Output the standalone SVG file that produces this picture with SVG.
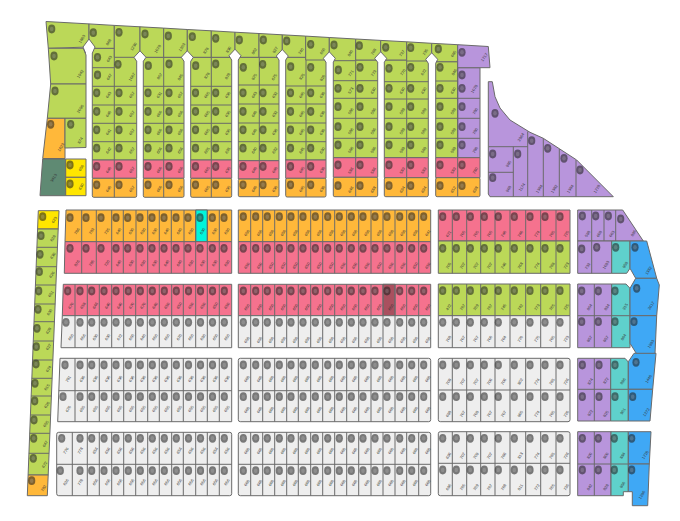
<svg xmlns="http://www.w3.org/2000/svg" width="680" height="521" viewBox="0 0 680 521">
<style>
rect,polygon,path{stroke:#6a6a6a;stroke-width:1;stroke-linejoin:round}
path{fill:none}
path.w{fill:#fff}
.g{fill:#bbd858}.o{fill:#ffb83a}.p{fill:#f5728e}.e{fill:#eeeeee}.v{fill:#b895dc}.t{fill:#5fd1cc}.u{fill:#3fa8f5}.y{fill:#ffe600}.d{fill:#5f8a73}.c{fill:#00f5dc}.m{fill:#a9505f}
text{font:4px "Liberation Sans",Arial,sans-serif;fill:#333;text-anchor:middle;transform-box:fill-box;transform-origin:center;transform:rotate(-58deg)}
</style>
<defs>
<g id="b"><ellipse rx="3.6" ry="4.4" fill="#222" opacity=".58"/><ellipse rx="1.8" ry="2.2" fill="#fff" opacity=".16"/></g>
<g id="p2"><use href="#b" x="96.7"/><use href="#b" x="119"/></g>
<g id="p3"><use href="#b" x="148"/><use href="#b" x="169"/></g>
<g id="p4"><use href="#b" x="195.5"/><use href="#b" x="215.7"/></g>
<g id="p5"><use href="#b" x="243"/><use href="#b" x="263"/></g>
<g id="p6"><use href="#b" x="290.5"/><use href="#b" x="310.7"/></g>
<g id="p7"><use href="#b" x="338"/><use href="#b" x="360"/></g>
<g id="p8"><use href="#b" x="389"/><use href="#b" x="410.7"/></g>
<g id="p9"><use href="#b" x="440"/><use href="#b" x="462"/></g>
<g id="r1"><use href="#b" x="70"/><use href="#b" x="86"/><use href="#b" x="101"/><use href="#b" x="116"/><use href="#b" x="127.7"/><use href="#b" x="140"/><use href="#b" x="152"/><use href="#b" x="164"/><use href="#b" x="176"/><use href="#b" x="188"/><use href="#b" x="200"/><use href="#b" x="212.3"/><use href="#b" x="224"/></g>
<g id="r2"><use href="#b" x="80"/><use href="#b" x="91.7"/><use href="#b" x="104"/><use href="#b" x="116"/><use href="#b" x="128.3"/><use href="#b" x="140.3"/><use href="#b" x="152.3"/><use href="#b" x="164.3"/><use href="#b" x="176.3"/><use href="#b" x="188.5"/><use href="#b" x="200.5"/><use href="#b" x="212.5"/><use href="#b" x="224.3"/></g>
<g id="r3"><use href="#b" x="243.3"/><use href="#b" x="255.7"/><use href="#b" x="267.3"/><use href="#b" x="279.3"/><use href="#b" x="291"/><use href="#b" x="303"/><use href="#b" x="315.3"/><use href="#b" x="327.7"/><use href="#b" x="339.3"/><use href="#b" x="351.3"/><use href="#b" x="363"/><use href="#b" x="375"/><use href="#b" x="387"/><use href="#b" x="399.7"/><use href="#b" x="411.7"/><use href="#b" x="423.7"/></g>
<g id="r4"><use href="#b" x="442.7"/><use href="#b" x="456.3"/><use href="#b" x="470.3"/><use href="#b" x="484.3"/><use href="#b" x="498.3"/><use href="#b" x="514.3"/><use href="#b" x="530"/><use href="#b" x="545"/><use href="#b" x="560"/></g>
</defs>

<g id="west-lots">
<polygon class="g" points="46,21.5 89,23.9 89,47 48.3,48.3"/>
<polygon class="g" points="48.3,48.3 83.3,48.3 86,55 86,84 50.7,84"/>
<polygon class="g" points="50.7,84 86,84 86,118.3 47.3,118.3"/>
<polygon class="o" points="47.3,118.3 65,118.3 65,158.5 42.7,158.5"/>
<polygon class="g" points="65,118.3 86,118.3 86,147.5 65,148"/>
<polygon class="d" points="42.7,159 65.7,159 65.7,195.7 40,195.7"/>
<polygon class="y" points="65.7,159 86,159 86,177.3 65.7,177.3"/>
<polygon class="y" points="65.7,177.3 86,177.3 86,195.7 65.7,195.7"/>
<use href="#b" x="51.7" y="29"/><use href="#b" x="54" y="56"/><use href="#b" x="55" y="91"/><use href="#b" x="50.7" y="124.3"/><use href="#b" x="70.7" y="124.3"/><use href="#b" x="70" y="165"/><use href="#b" x="70" y="184"/>
<text x="81.7" y="40">1803</text><text x="80" y="75">1942</text><text x="80" y="110">2096</text><text x="60.7" y="148.3">1623</text><text x="80" y="141.7">874</text><text x="53.3" y="179">3413</text><text x="81" y="169">650</text><text x="81" y="187.7">630</text>
</g>

<g id="block-2">
<rect class="g" x="92.3" y="48.3" width="44.4" height="111.7"/><rect class="p" x="92.3" y="160" width="44.4" height="18.3"/><rect class="o" x="92.3" y="178.3" width="44.4" height="19" rx="1.5"/>
<path d="M114.3 48.3V197.3M92.3 67.7H114.3M92.3 86.3H136.7M92.3 105H136.7M92.3 123.3H136.7M92.3 141.7H136.7"/>
<use href="#b" x="97.5" y="57.3"/><use href="#b" x="97.5" y="75"/><use href="#b" x="118" y="64.3"/>
<use href="#p2" y="92.8"/><use href="#p2" y="111.5"/><use href="#p2" y="129.8"/><use href="#p2" y="148.2"/><use href="#p2" y="166.5"/><use href="#p2" y="184.8"/>
<text x="109" y="60">643</text><text x="109" y="78">647</text><text x="131.7" y="78">1067</text>
<text x="108.3" y="96">643</text><text x="131.7" y="96">657</text><text x="108.3" y="115">640</text><text x="131.7" y="115">657</text><text x="108.3" y="133">641</text><text x="131.7" y="133">657</text><text x="108.3" y="151.5">642</text><text x="131.7" y="151.5">657</text><text x="108.3" y="171">640</text><text x="131.7" y="171">657</text><text x="108.3" y="190">640</text><text x="131.7" y="190">657</text>
</g>
<g id="block-3">
<rect class="g" x="143.3" y="57.3" width="40.7" height="102.7"/><rect class="p" x="143.3" y="160" width="40.7" height="18.3"/><rect class="o" x="143.3" y="178.3" width="40.7" height="19" rx="1.5"/>
<path d="M163.7 57.3V197.3M143.3 86.3H184M143.3 105H184M143.3 123.3H184M143.3 141.7H184"/>
<use href="#b" x="148.3" y="65.7"/><use href="#b" x="169" y="64"/>
<use href="#p3" y="92.8"/><use href="#p3" y="111.5"/><use href="#p3" y="129.8"/><use href="#p3" y="148.2"/><use href="#p3" y="166.5"/><use href="#p3" y="184.8"/>
<text x="159.3" y="77.3">857</text><text x="180" y="78.3">845</text>
<text x="159" y="96">631</text><text x="180" y="96">657</text><text x="159" y="115">606</text><text x="180" y="115">656</text><text x="159" y="133">606</text><text x="180" y="133">656</text><text x="159" y="151.5">606</text><text x="180" y="151.5">656</text><text x="159" y="171">606</text><text x="180" y="171">656</text><text x="159" y="190">606</text><text x="180" y="190">656</text>
</g>
<g id="block-4">
<rect class="g" x="190.7" y="57.3" width="41" height="102.7"/><rect class="p" x="190.7" y="160" width="41" height="18.3"/><rect class="o" x="190.7" y="178.3" width="41" height="19" rx="1.5"/>
<path d="M211.3 57.3V197.3M190.7 86.3H231.7M190.7 105H231.7M190.7 123.3H231.7M190.7 141.7H231.7"/>
<use href="#b" x="195.7" y="65.7"/><use href="#b" x="215.7" y="64"/>
<use href="#p4" y="92.8"/><use href="#p4" y="111.5"/><use href="#p4" y="129.8"/><use href="#p4" y="148.2"/><use href="#p4" y="166.5"/><use href="#p4" y="184.8"/>
<text x="206.7" y="76.7">878</text><text x="227.3" y="77.3">878</text>
<text x="206.7" y="96">605</text><text x="227.5" y="96">630</text><text x="206.7" y="115">605</text><text x="227.5" y="115">635</text><text x="206.7" y="133">605</text><text x="227.5" y="133">635</text><text x="206.7" y="151.5">605</text><text x="227.5" y="151.5">635</text><text x="206.7" y="171">605</text><text x="227.5" y="171">635</text><text x="206.7" y="190">605</text><text x="227.5" y="190">635</text>
</g>
<g id="block-5">
<rect class="g" x="238.3" y="57.3" width="40.7" height="103.4"/><rect class="p" x="238.3" y="160.7" width="40.7" height="18.3"/><rect class="o" x="238.3" y="179" width="40.7" height="17.7" rx="1.5"/>
<path d="M259.3 57.3V196.7M238.3 85H279M238.3 104H279M238.3 123H279M238.3 141.7H279"/>
<use href="#b" x="243.3" y="67.3"/><use href="#b" x="262.7" y="64.3"/>
<use href="#p5" y="92.8"/><use href="#p5" y="111.5"/><use href="#p5" y="129.8"/><use href="#p5" y="148.2"/><use href="#p5" y="166.5"/><use href="#p5" y="184.8"/>
<text x="254" y="78">875</text><text x="274" y="78.3">675</text>
<text x="254" y="96">643</text><text x="274.5" y="96">632</text><text x="254" y="115">640</text><text x="274.5" y="115">632</text><text x="254" y="133">640</text><text x="274.5" y="133">636</text><text x="254" y="151.5">640</text><text x="274.5" y="151.5">632</text><text x="254" y="171">640</text><text x="274.5" y="171">640</text><text x="254" y="190">640</text><text x="274.5" y="190">630</text>
</g>
<g id="block-6">
<rect class="g" x="285.7" y="57.3" width="40.3" height="102.7"/><rect class="p" x="285.7" y="160" width="40.3" height="18.3"/><rect class="o" x="285.7" y="178.3" width="40.3" height="18.7" rx="1.5"/>
<path d="M306 57.3V197M285.7 86H326M285.7 104H326M285.7 123H326M285.7 141.7H326"/>
<use href="#b" x="290.7" y="66.7"/><use href="#b" x="310.7" y="67.3"/>
<use href="#p6" y="92.8"/><use href="#p6" y="111.5"/><use href="#p6" y="129.8"/><use href="#p6" y="148.2"/><use href="#p6" y="166.5"/><use href="#p6" y="184.8"/>
<text x="301.7" y="77.7">825</text><text x="322.3" y="79">820</text>
<text x="301.5" y="96">645</text><text x="322" y="96">630</text><text x="301.5" y="115">645</text><text x="322" y="115">630</text><text x="301.5" y="133">645</text><text x="322" y="133">630</text><text x="301.5" y="151.5">645</text><text x="322" y="151.5">630</text><text x="301.5" y="171">645</text><text x="322" y="171">630</text><text x="301.5" y="190">645</text><text x="322" y="190">630</text>
</g>
<g id="block-7">
<rect class="g" x="333.3" y="60" width="44.4" height="97.7"/><rect class="p" x="333.3" y="157.7" width="44.4" height="19.6"/><rect class="o" x="333.3" y="177.3" width="44.4" height="19.4" rx="1.5"/>
<path d="M355.7 60V196.7M333.3 80.7H377.7M333.3 98.3H377.7M333.3 118.3H377.7M333.3 138.3H377.7"/>
<use href="#b" x="338.3" y="70"/><use href="#b" x="360" y="67.3"/>
<use href="#p7" y="88.3"/><use href="#p7" y="106.7"/><use href="#p7" y="126.7"/><use href="#p7" y="145"/><use href="#p7" y="165"/><use href="#p7" y="185.7"/>
<text x="350.7" y="74.3">771</text><text x="373.3" y="74.3">773</text>
<text x="350.5" y="91.7">573</text><text x="373" y="91.7">630</text><text x="350.5" y="112.3">586</text><text x="373" y="112.3">586</text><text x="350.5" y="132.3">586</text><text x="373" y="132.3">586</text><text x="350.5" y="151">586</text><text x="373" y="151">586</text><text x="350.5" y="171.7">586</text><text x="373" y="171.7">586</text><text x="350.5" y="190.7">646</text><text x="373" y="190.7">688</text>
</g>
<g id="block-8">
<rect class="g" x="384.3" y="60" width="44" height="97.7"/><rect class="p" x="384.3" y="157.7" width="44" height="20"/><rect class="o" x="384.3" y="177.7" width="44" height="19" rx="1.5"/>
<path d="M406.7 60V196.7M384.3 81.7H428.3M384.3 99H428.3M384.3 118.3H428.3M384.3 138.3H428.3"/>
<use href="#b" x="389" y="68.3"/><use href="#b" x="410.7" y="67.3"/>
<use href="#p8" y="88.3"/><use href="#p8" y="106.7"/><use href="#p8" y="126.7"/><use href="#p8" y="145"/><use href="#p8" y="165"/><use href="#p8" y="185.7"/>
<text x="402.7" y="73.3">770</text><text x="423.3" y="73.3">672</text>
<text x="402" y="91.7">630</text><text x="423.5" y="91.7">630</text><text x="402" y="112.3">589</text><text x="423.5" y="112.3">589</text><text x="402" y="132.3">589</text><text x="423.5" y="132.3">589</text><text x="402" y="151">589</text><text x="423.5" y="151">589</text><text x="402" y="171.7">589</text><text x="423.5" y="171.7">589</text><text x="402" y="190.7">694</text><text x="423.5" y="190.7">694</text>
</g>
<g id="block-9">
<rect class="g" x="435.7" y="61.7" width="22" height="96"/><rect class="v" x="457.7" y="67.7" width="22.3" height="90"/><rect class="p" x="435.7" y="157.7" width="44.3" height="20"/><rect class="o" x="435.7" y="177.7" width="44.3" height="19" rx="1.5"/>
<path d="M457.7 61.7V196.7M435.7 81H457.7M435.7 98.3H480M435.7 118.3H480M435.7 138.3H480"/>
<use href="#b" x="440" y="67.3"/><use href="#b" x="462" y="75"/>
<use href="#p9" y="88.3"/><use href="#p9" y="106.7"/><use href="#p9" y="126.7"/><use href="#p9" y="145"/><use href="#p9" y="165"/><use href="#p9" y="185.7"/>
<text x="454" y="73.3">846</text><text x="474" y="90">1078</text>
<text x="453" y="91.7">630</text><text x="453" y="112.3">589</text><text x="475" y="112.3">780</text><text x="453" y="132.3">589</text><text x="475" y="132.3">780</text><text x="453" y="151">589</text><text x="475" y="151">780</text><text x="453" y="171.7">589</text><text x="475" y="171.7">780</text><text x="453" y="190.7">652</text><text x="475" y="190.7">698</text>
</g>

<g id="top-row">
<polygon class="g" points="89,23.9 114.3,25.4 114.3,48.3 89,48.3"/>
<polygon class="g" points="114.3,25.4 140,26.8 140,57.3 114.3,57.3"/>
<polygon class="g" points="140,26.8 163.7,28.1 163.7,57.3 140,57.3"/>
<polygon class="g" points="163.7,28.1 187.3,29.5 187.3,57.3 163.7,57.3"/>
<polygon class="g" points="187.3,29.5 211.3,30.8 211.3,57.3 187.3,57.3"/>
<polygon class="g" points="211.3,30.8 235,32.2 235,57.3 211.3,57.3"/>
<polygon class="g" points="235,32.2 259,33.5 259,57.3 235,57.3"/>
<polygon class="g" points="259,33.5 282.3,34.8 282.3,57.3 259,57.3"/>
<polygon class="g" points="282.3,34.8 305.7,36.1 305.7,57.3 282.3,57.3"/>
<polygon class="g" points="305.7,36.1 329.3,37.5 329.3,60 305.7,60"/>
<polygon class="g" points="329.3,37.5 355.7,39 355.7,60.7 329.3,60.7"/>
<polygon class="g" points="355.7,39 380.7,40.4 380.7,60 355.7,60"/>
<polygon class="g" points="380.7,40.4 406.7,41.8 406.7,60 380.7,60"/>
<polygon class="g" points="406.7,41.8 431.7,43.3 431.7,61 406.7,61"/>
<polygon class="g" points="431.7,43.3 457.7,44.7 457.7,61.7 431.7,61.7"/>
<polygon class="v" points="457.7,44.7 488.3,46.5 490,67.7 457.7,67.7"/>
<path class="w" d="M85.6 53 L83 47 L89 39 L95 47 L92.4 53"/>
<path class="w" d="M136.7 61.3 L134 57.3 L140 50.8 L146 57.3 L143.3 61.3"/>
<path class="w" d="M184 61.3 L181.3 57.3 L187.3 50.8 L193.3 57.3 L190.7 61.3"/>
<path class="w" d="M231.7 60 L229 55.7 L235 49.2 L241 55.7 L238.3 60"/>
<path class="w" d="M279 60 L276.3 56 L282.3 49.5 L288.3 56 L285.7 60"/>
<path class="w" d="M326 62.3 L323.3 58.3 L329.3 51.8 L335.3 58.3 L333.3 62.3"/>
<path class="w" d="M377.7 62.3 L374.7 58.3 L380.7 51.8 L386.7 58.3 L384.3 62.3"/>
<path class="w" d="M428.3 63.3 L425.7 59.3 L431.7 52.8 L437.7 59.3 L435.7 63.3"/>
<use href="#b" x="93.3" y="32.7"/><use href="#b" x="119" y="32.3"/><use href="#b" x="145" y="34"/><use href="#b" x="168.3" y="36"/><use href="#b" x="192.3" y="36.7"/><use href="#b" x="215.7" y="38.3"/><use href="#b" x="239.3" y="40"/><use href="#b" x="263.3" y="40"/><use href="#b" x="286.7" y="41"/><use href="#b" x="310.7" y="44.3"/><use href="#b" x="334" y="45"/><use href="#b" x="359.3" y="45.7"/><use href="#b" x="385.7" y="47.3"/><use href="#b" x="410.7" y="47.7"/><use href="#b" x="438.3" y="49"/><use href="#b" x="462" y="52.3"/>
<text x="108.3" y="43.3">868</text><text x="133.3" y="47.7">1230</text><text x="157.3" y="50">1078</text><text x="181.7" y="48.3">1203</text><text x="205.7" y="51.7">878</text><text x="228.3" y="50.7">830</text><text x="254" y="52.3">862</text><text x="275" y="51">827</text><text x="300.7" y="52.3">740</text><text x="322.3" y="52.3">650</text><text x="350" y="54.3">840</text><text x="373.3" y="52.7">768</text><text x="401.7" y="54.3">737</text><text x="425" y="53.3">735</text><text x="453.3" y="55">685</text><text x="484" y="58.3">1717</text>
</g>

<g id="east-wedge">
<polygon class="v" points="488.3,81.7 492.3,81.7 495,96.7 500,108 510,120 530,132.3 543.3,138.3 576.7,160 613.3,196.7 490,196.7 488.3,194 488.3,146.7"/>
<path d="M488.3 146.7H527.7M513.3 146.7V196.7M488.3 172.3H513.3M527.7 131.5V196.7M543.3 138.3V196.7M559.3 149V196.7M576 160V196.7"/>
<use href="#b" x="495" y="113.3"/><use href="#b" x="492.7" y="154"/><use href="#b" x="492.7" y="177.7"/><use href="#b" x="517.7" y="154"/><use href="#b" x="531.7" y="140.7"/><use href="#b" x="547.7" y="148.3"/><use href="#b" x="564" y="158.3"/><use href="#b" x="580" y="170"/>
<text x="520.7" y="138.3">2964</text><text x="508.3" y="165">985</text><text x="508.3" y="190">968</text><text x="521.7" y="188.3">1174</text><text x="539" y="190">1384</text><text x="554" y="190">1382</text><text x="570" y="190">1384</text><text x="596.7" y="190">1778</text>
</g>

<g id="west-strip">
<polygon class="y" points="38.3,210.7 59,210.7 58.2,229 37.6,229"/>
<polygon class="g" points="37.6,229 58.2,229 48.2,475 28.1,475"/>
<polygon class="o" points="28.1,475 48.2,475 47.3,495.7 27.3,495.7"/>
<path d="M36.9 247.3H57.5M36.1 266.7H56.7M35.4 285H56M34.7 304H55.2M34 321.7H54.4M33.3 341H53.7M32.5 360H52.9M31.8 378.3H52.1M31.1 396H51.4M30.4 415H50.6M29.7 433.3H49.9M28.9 453.3H49"/>
<use href="#b" x="42.7" y="216.7"/><use href="#b" x="41" y="235.7"/><use href="#b" x="40" y="254.3"/><use href="#b" x="39.3" y="271.7"/><use href="#b" x="38.7" y="291"/><use href="#b" x="38" y="309.3"/><use href="#b" x="37" y="328.3"/><use href="#b" x="36.3" y="346.7"/><use href="#b" x="36" y="364"/><use href="#b" x="35" y="383.3"/><use href="#b" x="34.7" y="401"/><use href="#b" x="34" y="420"/><use href="#b" x="33.7" y="438.3"/><use href="#b" x="33.3" y="458.3"/><use href="#b" x="31.7" y="480.7"/>
<text x="54" y="221">623</text><text x="52.7" y="239.3">628</text><text x="52.7" y="256.7">630</text><text x="51.7" y="275.7">626</text><text x="50.7" y="295">651</text><text x="49.3" y="313.3">630</text><text x="48.3" y="331.7">628</text><text x="48.3" y="348">627</text><text x="48.3" y="370">674</text><text x="46.7" y="388.3">615</text><text x="46.7" y="406">626</text><text x="45.7" y="425">655</text><text x="45" y="445">647</text><text x="44.3" y="465.7">672</text><text x="43.3" y="489.3">782</text>
</g>

<g id="row-1-left">
<polygon class="o" points="66,210 231.7,210 231.7,241.7 65,241.7"/>
<rect class="c" x="195.7" y="210" width="11.6" height="31.7"/>
<polygon class="p" points="65,241.7 231.7,241.7 231.7,273.3 64.3,273.3"/>
<path d="M81.7 210V273.3M96.3 210V273.3M111.7 210V273.3M123.3 210V273.3M136 210V273.3M147.7 210V273.3M159.3 210V273.3M171.3 210V273.3M184 210V273.3M195.7 210V273.3M207.3 210V273.3M219.3 210V273.3"/>
<use href="#r1" y="217.7"/><use href="#r1" y="248.3"/>
<text x="76.7" y="232.3">786</text><text x="91.3" y="232.3">783</text><text x="106.7" y="232.3">735</text><text x="118.3" y="232.3">640</text><text x="131" y="232.3">630</text><text x="142.7" y="232.3">630</text><text x="154.3" y="232.3">630</text><text x="166.3" y="232.3">640</text><text x="179" y="232.3">640</text><text x="190.7" y="232.3">630</text><text x="202.3" y="232.3">630</text><text x="214.3" y="232.3">630</text><text x="226.7" y="232.3">630</text>
<text x="76.7" y="264.3">876</text><text x="91.3" y="264.3">785</text><text x="106.7" y="264.3">720</text><text x="118.3" y="264.3">640</text><text x="131" y="264.3">630</text><text x="142.7" y="264.3">630</text><text x="154.3" y="264.3">630</text><text x="166.3" y="264.3">640</text><text x="179" y="264.3">640</text><text x="190.7" y="264.3">630</text><text x="202.3" y="264.3">630</text><text x="214.3" y="264.3">630</text><text x="226.7" y="264.3">630</text>
</g>
<g id="row-2-left">
<polygon class="p" points="63.3,284.3 231.7,284.3 231.7,315.7 62.3,315.7"/>
<polygon class="e" points="62.3,315.7 231.7,315.7 231.7,347.7 61,347.7"/>
<path d="M75 284.3V347.7M87.3 284.3V347.7M99.3 284.3V347.7M111.7 284.3V347.7M123.7 284.3V347.7M135.7 284.3V347.7M147.3 284.3V347.7M159.3 284.3V347.7M171.7 284.3V347.7M183.3 284.3V347.7M195.7 284.3V347.7M207.3 284.3V347.7M219.3 284.3V347.7"/>
<use href="#b" x="67.7" y="291"/><use href="#r2" y="291"/><use href="#b" x="66" y="322.3"/><use href="#r2" y="322.3"/>
<text x="70.7" y="306.7">670</text><text x="82.7" y="306.7">658</text><text x="95" y="306.7">646</text><text x="107.3" y="306.7">640</text><text x="119.3" y="306.7">640</text><text x="131.3" y="306.7">670</text><text x="142.7" y="306.7">670</text><text x="154.7" y="306.7">640</text><text x="166.7" y="306.7">650</text><text x="179" y="306.7">650</text><text x="190.7" y="306.7">650</text><text x="202.7" y="306.7">650</text><text x="215" y="306.7">650</text><text x="226.7" y="306.7">650</text>
<text x="70.7" y="338.3">650</text><text x="82.7" y="338.3">656</text><text x="95" y="338.3">630</text><text x="107.3" y="338.3">630</text><text x="119.3" y="338.3">672</text><text x="131.3" y="338.3">650</text><text x="142.7" y="338.3">640</text><text x="154.7" y="338.3">650</text><text x="166.7" y="338.3">650</text><text x="179" y="338.3">670</text><text x="190.7" y="338.3">650</text><text x="202.7" y="338.3">630</text><text x="215" y="338.3">650</text><text x="226.7" y="338.3">650</text>
</g>
<g id="row-3-left">
<polygon class="e" points="60,358.3 231.7,358.3 231.7,421.7 57.7,421.7"/>
<path d="M58.8 390.7H231.7M75 358.3V421.7M87.3 358.3V421.7M99.3 358.3V421.7M111.7 358.3V421.7M123.7 358.3V421.7M135.7 358.3V421.7M147.7 358.3V421.7M159.3 358.3V421.7M171.7 358.3V421.7M183.3 358.3V421.7M195.7 358.3V421.7M207.3 358.3V421.7M219.3 358.3V421.7"/>
<use href="#b" x="65" y="365"/><use href="#r2" y="365"/><use href="#b" x="63" y="396.7"/><use href="#r2" y="396.7"/>
<text x="68" y="380">781</text><text x="82" y="380">636</text><text x="95" y="380">636</text><text x="107.3" y="380">636</text><text x="119.3" y="380">636</text><text x="131.3" y="380">636</text><text x="142.7" y="380">636</text><text x="154.7" y="380">636</text><text x="166.7" y="380">636</text><text x="179" y="380">636</text><text x="190.7" y="380">636</text><text x="202.7" y="380">636</text><text x="215" y="380">636</text><text x="226.7" y="380">636</text>
<text x="68" y="410">676</text><text x="82" y="410">655</text><text x="95" y="410">655</text><text x="107.3" y="410">655</text><text x="119.3" y="410">655</text><text x="131.3" y="410">655</text><text x="142.7" y="410">655</text><text x="154.7" y="410">655</text><text x="166.7" y="410">655</text><text x="179" y="410">655</text><text x="190.7" y="410">655</text><text x="202.7" y="410">655</text><text x="215" y="410">655</text><text x="226.7" y="410">655</text>
</g>
<g id="row-4-left">
<rect class="e" x="56.7" y="432.3" width="175" height="63.4" rx="2"/>
<path d="M56.7 464.3H231.7M72.3 432.3V495.7M87.3 432.3V495.7M99.3 432.3V495.7M111.7 432.3V495.7M123.7 432.3V495.7M135.7 432.3V495.7M147.7 432.3V495.7M159.3 432.3V495.7M171.7 432.3V495.7M183.3 432.3V495.7M195.7 432.3V495.7M207.3 432.3V495.7M219.3 432.3V495.7"/>
<use href="#b" x="61.7" y="438.3"/><use href="#r2" y="438.3"/><use href="#b" x="60.3" y="470.7"/><use href="#r2" y="470.7"/>
<text x="65.7" y="451.7">776</text><text x="80" y="451.7">778</text><text x="95" y="451.7">656</text><text x="107.3" y="451.7">656</text><text x="119.3" y="451.7">656</text><text x="131.3" y="451.7">656</text><text x="142.7" y="451.7">656</text><text x="154.7" y="451.7">656</text><text x="166.7" y="451.7">656</text><text x="179" y="451.7">656</text><text x="190.7" y="451.7">656</text><text x="202.7" y="451.7">656</text><text x="215" y="451.7">656</text><text x="226.7" y="451.7">656</text>
<text x="65.7" y="483.3">626</text><text x="80" y="483.3">778</text><text x="95" y="483.3">656</text><text x="107.3" y="483.3">656</text><text x="119.3" y="483.3">656</text><text x="131.3" y="483.3">656</text><text x="142.7" y="483.3">656</text><text x="154.7" y="483.3">656</text><text x="166.7" y="483.3">656</text><text x="179" y="483.3">656</text><text x="190.7" y="483.3">656</text><text x="202.7" y="483.3">656</text><text x="215" y="483.3">656</text><text x="226.7" y="483.3">656</text>
</g>

<g id="row-1-mid">
<rect class="o" x="238.3" y="210" width="192.4" height="31.7"/>
<rect class="p" x="238.3" y="241.7" width="192.4" height="31.6"/>
<path d="M250.7 210V273.3M262.7 210V273.3M274.7 210V273.3M286.7 210V273.3M298.3 210V273.3M310.7 210V273.3M322.7 210V273.3M334.7 210V273.3M346.7 210V273.3M358.7 210V273.3M371 210V273.3M383 210V273.3M395 210V273.3M406.7 210V273.3M418.7 210V273.3"/>
<use href="#r3" y="216.7"/><use href="#r3" y="248.3"/>
<text x="246.7" y="234">650</text><text x="259.3" y="234">650</text><text x="271" y="234">650</text><text x="283" y="234">650</text><text x="295" y="234">650</text><text x="307" y="234">650</text><text x="319" y="234">650</text><text x="331" y="234">650</text><text x="342.7" y="234">650</text><text x="354.3" y="234">650</text><text x="366.7" y="234">650</text><text x="379" y="234">650</text><text x="390.7" y="234">650</text><text x="402.7" y="234">650</text><text x="415" y="234">650</text><text x="427.7" y="234">641</text>
<text x="246.7" y="266.7">650</text><text x="259.3" y="266.7">650</text><text x="271" y="266.7">650</text><text x="283" y="266.7">650</text><text x="295" y="266.7">650</text><text x="307" y="266.7">650</text><text x="319" y="266.7">650</text><text x="331" y="266.7">650</text><text x="342.7" y="266.7">650</text><text x="354.3" y="266.7">650</text><text x="366.7" y="266.7">650</text><text x="379" y="266.7">650</text><text x="390.7" y="266.7">650</text><text x="402.7" y="266.7">650</text><text x="415" y="266.7">650</text><text x="427.7" y="266.7">650</text>
</g>
<g id="row-2-mid">
<rect class="p" x="238.3" y="284.3" width="192.4" height="31.4"/>
<rect class="m" x="383" y="284.3" width="12" height="31.4"/>
<rect class="e" x="238.3" y="315.7" width="192.4" height="32"/>
<path d="M250.7 284.3V347.7M262.7 284.3V347.7M274.7 284.3V347.7M286.7 284.3V347.7M298.3 284.3V347.7M310.7 284.3V347.7M322.7 284.3V347.7M334.7 284.3V347.7M346.7 284.3V347.7M358.7 284.3V347.7M371 284.3V347.7M383 284.3V347.7M395 284.3V347.7M406.7 284.3V347.7M418.7 284.3V347.7"/>
<use href="#r3" y="291"/><use href="#r3" y="322.3"/>
<text x="246.7" y="308.3">650</text><text x="259.3" y="308.3">650</text><text x="271" y="308.3">650</text><text x="283" y="308.3">650</text><text x="295" y="308.3">650</text><text x="307" y="308.3">650</text><text x="319" y="308.3">650</text><text x="331" y="308.3">650</text><text x="342.7" y="308.3">650</text><text x="354.3" y="308.3">650</text><text x="366.7" y="308.3">650</text><text x="379" y="308.3">650</text><text x="390.7" y="308.3">650</text><text x="402.7" y="308.3">650</text><text x="415" y="308.3">650</text><text x="427.7" y="308.3">650</text>
<text x="246.7" y="341">650</text><text x="259.3" y="341">650</text><text x="271" y="341">650</text><text x="283" y="341">650</text><text x="295" y="341">650</text><text x="307" y="341">650</text><text x="319" y="341">650</text><text x="331" y="341">650</text><text x="342.7" y="341">650</text><text x="354.3" y="341">650</text><text x="366.7" y="341">650</text><text x="379" y="341">650</text><text x="390.7" y="341">650</text><text x="402.7" y="341">650</text><text x="415" y="341">650</text><text x="427.7" y="341">650</text>
</g>
<g id="row-3-mid">
<rect class="e" x="238.3" y="358.3" width="192.4" height="63.4" rx="2"/>
<path d="M238.3 390.7H430.7M250.7 358.3V421.7M262.7 358.3V421.7M274.7 358.3V421.7M286.7 358.3V421.7M298.3 358.3V421.7M310.7 358.3V421.7M322.7 358.3V421.7M334.7 358.3V421.7M346.7 358.3V421.7M358.7 358.3V421.7M371 358.3V421.7M383 358.3V421.7M395 358.3V421.7M406.7 358.3V421.7M418.7 358.3V421.7"/>
<use href="#r3" y="365"/><use href="#r3" y="396.7"/>
<text x="246.7" y="380">660</text><text x="259.3" y="380">660</text><text x="271" y="380">660</text><text x="283" y="380">660</text><text x="295" y="380">660</text><text x="307" y="380">660</text><text x="319" y="380">660</text><text x="331" y="380">660</text><text x="342.7" y="380">660</text><text x="354.3" y="380">660</text><text x="366.7" y="380">660</text><text x="379" y="380">660</text><text x="390.7" y="380">660</text><text x="402.7" y="380">660</text><text x="415" y="380">660</text><text x="427.7" y="380">660</text>
<text x="246.7" y="411">660</text><text x="259.3" y="411">660</text><text x="271" y="411">660</text><text x="283" y="411">660</text><text x="295" y="411">660</text><text x="307" y="411">660</text><text x="319" y="411">660</text><text x="331" y="411">660</text><text x="342.7" y="411">660</text><text x="354.3" y="411">660</text><text x="366.7" y="411">660</text><text x="379" y="411">660</text><text x="390.7" y="411">660</text><text x="402.7" y="411">660</text><text x="415" y="411">660</text><text x="427.7" y="411">660</text>
</g>
<g id="row-4-mid">
<rect class="e" x="238.3" y="432.3" width="192.4" height="63.4" rx="2"/>
<path d="M238.3 464.3H430.7M250.7 432.3V495.7M262.7 432.3V495.7M274.7 432.3V495.7M286.7 432.3V495.7M298.3 432.3V495.7M310.7 432.3V495.7M322.7 432.3V495.7M334.7 432.3V495.7M346.7 432.3V495.7M358.7 432.3V495.7M371 432.3V495.7M383 432.3V495.7M395 432.3V495.7M406.7 432.3V495.7M418.7 432.3V495.7"/>
<use href="#r3" y="438.3"/><use href="#r3" y="470.7"/>
<text x="246.7" y="452">660</text><text x="259.3" y="452">660</text><text x="271" y="452">660</text><text x="283" y="452">660</text><text x="295" y="452">660</text><text x="307" y="452">660</text><text x="319" y="452">660</text><text x="331" y="452">660</text><text x="342.7" y="452">660</text><text x="354.3" y="452">660</text><text x="366.7" y="452">660</text><text x="379" y="452">660</text><text x="390.7" y="452">660</text><text x="402.7" y="452">660</text><text x="415" y="452">660</text><text x="427.7" y="452">660</text>
<text x="246.7" y="484">660</text><text x="259.3" y="484">660</text><text x="271" y="484">660</text><text x="283" y="484">660</text><text x="295" y="484">660</text><text x="307" y="484">660</text><text x="319" y="484">660</text><text x="331" y="484">660</text><text x="342.7" y="484">660</text><text x="354.3" y="484">660</text><text x="366.7" y="484">660</text><text x="379" y="484">660</text><text x="390.7" y="484">660</text><text x="402.7" y="484">660</text><text x="415" y="484">660</text><text x="427.7" y="484">660</text>
</g>

<g id="row-1-right">
<rect class="p" x="438.3" y="210" width="131.7" height="31"/><rect class="g" x="438.3" y="241" width="131.7" height="32.3"/>
<path d="M452.3 210V273.3M466.7 210V273.3M480.7 210V273.3M495 210V273.3M510 210V273.3M525.7 210V273.3M540.7 210V273.3M556 210V273.3"/>
<use href="#r4" y="216.7"/><use href="#r4" y="248.3"/>
<text x="448.3" y="235">671</text><text x="462.3" y="235">705</text><text x="475.7" y="235">705</text><text x="489.3" y="235">705</text><text x="503.3" y="235">746</text><text x="520" y="235">746</text><text x="536.7" y="235">774</text><text x="551.7" y="235">765</text><text x="566" y="235">725</text>
<text x="448.3" y="266.7">705</text><text x="462.3" y="266.7">707</text><text x="475.7" y="266.7">707</text><text x="489.3" y="266.7">707</text><text x="503.3" y="266.7">746</text><text x="520" y="266.7">768</text><text x="536.7" y="266.7">774</text><text x="551.7" y="266.7">768</text><text x="566" y="266.7">723</text>
</g>
<g id="row-2-right">
<rect class="g" x="438.3" y="284" width="131.7" height="31.7"/><rect class="e" x="438.3" y="315.7" width="131.7" height="32"/>
<path d="M452.3 284V347.7M466.7 284V347.7M480.7 284V347.7M495 284V347.7M510 284V347.7M525.7 284V347.7M540.7 284V347.7M556 284V347.7"/>
<use href="#r4" y="290.7"/><use href="#r4" y="322.3"/>
<text x="448.3" y="308.3">472</text><text x="462.3" y="308.3">707</text><text x="475.7" y="308.3">709</text><text x="489.3" y="308.3">707</text><text x="503.3" y="308.3">745</text><text x="520" y="308.3">742</text><text x="536.7" y="308.3">773</text><text x="551.7" y="308.3">765</text><text x="566" y="308.3">725</text>
<text x="448.3" y="340">708</text><text x="462.3" y="340">707</text><text x="475.7" y="340">707</text><text x="489.3" y="340">706</text><text x="503.3" y="340">764</text><text x="520" y="340">770</text><text x="536.7" y="340">775</text><text x="551.7" y="340">765</text><text x="566" y="340">723</text>
</g>
<g id="row-3-right">
<rect class="e" x="438.3" y="358.3" width="131.7" height="63.4" rx="2"/>
<path d="M438.3 390H570M452.3 358.3V421.7M466.7 358.3V421.7M480.7 358.3V421.7M495 358.3V421.7M510 358.3V421.7M525.7 358.3V421.7M540.7 358.3V421.7M556 358.3V421.7"/>
<use href="#r4" y="365"/><use href="#r4" y="396.7"/>
<text x="448.3" y="382.7">708</text><text x="462.3" y="382.7">707</text><text x="475.7" y="382.7">707</text><text x="489.3" y="382.7">706</text><text x="503.3" y="382.7">706</text><text x="520" y="382.7">802</text><text x="536.7" y="382.7">774</text><text x="551.7" y="382.7">765</text><text x="566" y="382.7">726</text>
<text x="448.3" y="415">698</text><text x="462.3" y="415">707</text><text x="475.7" y="415">708</text><text x="489.3" y="415">707</text><text x="503.3" y="415">707</text><text x="520" y="415">805</text><text x="536.7" y="415">774</text><text x="551.7" y="415">765</text><text x="566" y="415">726</text>
</g>
<g id="row-4-right">
<rect class="e" x="438.3" y="431.7" width="131.7" height="64" rx="2"/>
<path d="M438.3 463.3H570M452.3 431.7V495.7M466.7 431.7V495.7M480.7 431.7V495.7M495 431.7V495.7M510 431.7V495.7M525.7 431.7V495.7M540.7 431.7V495.7M556 431.7V495.7"/>
<use href="#r4" y="438.3"/><use href="#r4" y="470"/>
<text x="448.3" y="456.7">696</text><text x="462.3" y="456.7">707</text><text x="475.7" y="456.7">709</text><text x="489.3" y="456.7">707</text><text x="503.3" y="456.7">766</text><text x="520" y="456.7">813</text><text x="536.7" y="456.7">774</text><text x="551.7" y="456.7">765</text><text x="566" y="456.7">726</text>
<text x="448.3" y="488.3">696</text><text x="462.3" y="488.3">705</text><text x="475.7" y="488.3">709</text><text x="489.3" y="488.3">707</text><text x="503.3" y="488.3">768</text><text x="520" y="488.3">811</text><text x="536.7" y="488.3">772</text><text x="551.7" y="488.3">765</text><text x="566" y="488.3">726</text>
</g>

<g id="east-1">
<polygon class="v" points="577.7,210 622.7,210 643.3,241 577.7,241"/>
<rect class="v" x="577.7" y="241" width="34" height="32.3"/>
<polygon class="t" points="611.7,241 630,241 630,268.3 626.7,273.3 611.7,273.3"/>
<polygon class="u" points="630,241 646.7,241 656.7,278.3 635.7,278.3 630,268.3"/>
<path d="M591.7 210V241M604 210V241M615.7 210V241M591.7 241V273.3"/>
<use href="#b" x="582.3" y="216"/><use href="#b" x="595.7" y="216"/><use href="#b" x="608.3" y="216"/><use href="#b" x="620.7" y="219"/><use href="#b" x="581.7" y="249"/><use href="#b" x="596.7" y="247.3"/><use href="#b" x="615.7" y="247.3"/><use href="#b" x="635" y="247.3"/>
<text x="587.3" y="235">598</text><text x="599" y="235">608</text><text x="611.7" y="235">663</text><text x="633.3" y="234.3">895</text><text x="587.3" y="267.3">733</text><text x="605.7" y="266">1093</text><text x="625" y="266">858</text><text x="648.3" y="271.7">1382</text>
</g>
<g id="east-2">
<rect class="v" x="577.7" y="284" width="34" height="63.7"/>
<polygon class="t" points="611.7,284 626,284 630,288.3 630,347.7 611.7,347.7"/>
<polygon class="u" points="635.7,278.3 656.7,278.3 659.3,285 656.7,315.7 630,315.7 630,288.3"/>
<polygon class="u" points="630,315.7 656.7,315.7 655,354 636.7,354 630,343.3"/>
<path d="M577.7 315.7H630M594.3 284V347.7"/>
<use href="#b" x="581.7" y="291"/><use href="#b" x="598.3" y="291"/><use href="#b" x="615" y="291"/><use href="#b" x="636.7" y="288.3"/><use href="#b" x="581.7" y="321.7"/><use href="#b" x="598.3" y="321.7"/><use href="#b" x="615" y="321.7"/><use href="#b" x="634" y="321.7"/>
<text x="589.3" y="308.3">854</text><text x="606.7" y="308.3">834</text><text x="625" y="307.7">915</text><text x="651" y="306.7">2617</text><text x="589.3" y="340">857</text><text x="605.7" y="340">857</text><text x="623.3" y="338.3">804</text><text x="650.7" y="345">1983</text>
</g>
<g id="east-3">
<rect class="v" x="577.7" y="358.3" width="33" height="62.7"/>
<polygon class="t" points="610.7,358.3 625,358.3 628.3,362 628.3,421 610.7,421"/>
<polygon class="u" points="628.3,361.7 634,353.3 656,353.3 652.7,389.3 628.3,389.3"/>
<polygon class="u" points="628.3,389.3 652.7,389.3 650,421 628.3,421"/>
<path d="M577.7 389.3H628.3M594.3 358.3V421"/>
<use href="#b" x="582.3" y="365"/><use href="#b" x="599" y="365"/><use href="#b" x="615" y="365"/><use href="#b" x="636" y="362.3"/><use href="#b" x="582.3" y="396.7"/><use href="#b" x="599" y="396.7"/><use href="#b" x="615" y="396.7"/><use href="#b" x="632.7" y="396.7"/>
<text x="590" y="382.7">874</text><text x="605.7" y="381.7">872</text><text x="622.7" y="382.3">896</text><text x="648.3" y="380">1440</text><text x="590" y="414">872</text><text x="605.7" y="415">825</text><text x="622.7" y="412.3">901</text><text x="646" y="413.3">1272</text>
</g>
<g id="east-4">
<rect class="v" x="577.7" y="431.7" width="33.3" height="64"/>
<polygon class="t" points="611,431.7 628.3,431.7 628.3,491.7 623.3,491.7 623.3,495.7 611,495.7"/>
<polygon class="u" points="628.3,431.7 651,431.7 649.3,464 628.3,464"/>
<polygon class="u" points="628.3,464 649.3,464 647.7,505.7 632.3,505.7 632.3,491.7 628.3,491.7"/>
<path d="M577.7 464H628.3M594.3 431.7V495.7"/>
<use href="#b" x="582.3" y="438.3"/><use href="#b" x="598.3" y="438.3"/><use href="#b" x="614.3" y="438.3"/><use href="#b" x="631.7" y="438.3"/><use href="#b" x="582.3" y="470"/><use href="#b" x="598.3" y="470"/><use href="#b" x="614.3" y="470"/><use href="#b" x="631.7" y="470"/>
<text x="589.3" y="456.7">820</text><text x="605.7" y="456.7">800</text><text x="622.3" y="456.7">884</text><text x="645" y="456">1720</text><text x="589.3" y="488.3">842</text><text x="605.7" y="488.3">828</text><text x="622.3" y="486">856</text><text x="641.7" y="496">1286</text>
</g>
</svg>
